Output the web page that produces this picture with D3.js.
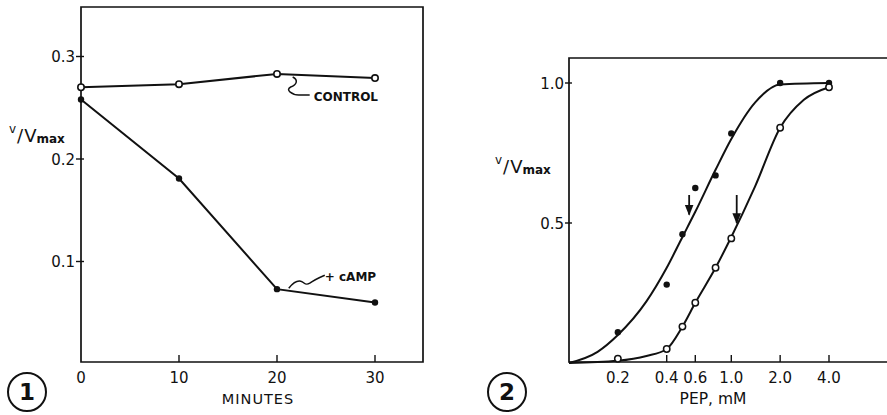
<!DOCTYPE html>
<html>
<head>
<meta charset="utf-8">
<script src="https://cdn.jsdelivr.net/npm/d3@7.9.0/dist/d3.min.js"></script>
<style>
  html, body { margin: 0; padding: 0; background: #fff; }
  svg { display: block; }
  text { font-family: 'DejaVu Sans', 'Liberation Sans', sans-serif; fill: #111; }
</style>
</head>
<body>
<div id="chart"></div>
<script>
// ---- figure 1: v/Vmax vs time ----
const minutes = [0, 10, 20, 30];
const controlValues = [0.270, 0.273, 0.283, 0.279];
const campValues = [0.258, 0.181, 0.073, 0.060];
const minuteTicks = [0, 10, 20, 30];
const rateTicks = [0.1, 0.2, 0.3];

// ---- figure 2: v/Vmax vs PEP (log axis) ----
const pepX = [0.2, 0.4, 0.5, 0.6, 0.8, 1.0, 2.0, 4.0];
const filledY = [0.11, 0.28, 0.46, 0.625, 0.67, 0.82, 1.0, 1.0];
const openY = [0.015, 0.05, 0.13, 0.215, 0.34, 0.445, 0.84, 0.985];
// hand-drawn fitted curves
const filledCurveX = [0.1, 0.15, 0.2, 0.3, 0.4, 0.5, 0.6, 0.8, 1.0, 1.4, 2.0, 4.0];
const filledCurveY = [0, 0.04, 0.10, 0.22, 0.34, 0.45, 0.54, 0.69, 0.80, 0.93, 0.995, 1.0];
const openCurveX = [0.1, 0.2, 0.3, 0.4, 0.5, 0.6, 0.8, 1.0, 1.4, 2.0, 2.8, 4.0];
const openCurveY = [0, 0.008, 0.025, 0.05, 0.13, 0.215, 0.34, 0.45, 0.63, 0.84, 0.94, 0.985];
const pepTicks = [0.2, 0.4, 0.6, 1.0, 2.0, 4.0];
const pepYTicks = [0.5, 1.0];
const arrowX = [0.55, 1.08];
const arrowTop = [0.60, 0.60];
const arrowTip = [0.53, 0.50];

const width = 887, height = 415;
const ink = '#111';

const svg = d3.select('#chart').append('svg')
  .attr('width', width)
  .attr('height', height)
  .attr('viewBox', `0 0 ${width} ${height}`);

svg.append('defs').append('marker')
  .attr('id', 'head')
  .attr('viewBox', '0 0 10 10')
  .attr('refX', 9).attr('refY', 5)
  .attr('markerWidth', 6).attr('markerHeight', 6)
  .attr('orient', 'auto')
  .attr('markerUnits', 'strokeWidth')
  .append('path').attr('d', 'M0,1 L10,5 L0,9 Z').attr('fill', ink);

function yLabel(g, x, y, big, small) {
  const t = g.append('text').attr('x', x).attr('y', y);
  t.append('tspan').attr('font-size', small).attr('dy', -9).text('v');
  t.append('tspan').attr('font-size', big).attr('dy', 9).attr('dx', 1).text('/');
  t.append('tspan').attr('font-size', big).attr('dx', 1).text('V');
  t.append('tspan').attr('font-size', small).attr('dy', 1).attr('font-weight', 'bold').text('max');
}

function circledNumber(g, cx, cy, n) {
  g.append('circle').attr('cx', cx).attr('cy', cy).attr('r', 19)
    .attr('fill', 'none').attr('stroke', ink).attr('stroke-width', 2);
  g.append('text').attr('x', cx).attr('y', cy + 8)
    .attr('text-anchor', 'middle').attr('font-size', 23).attr('font-weight', 'bold')
    .text(n);
}

// =================== panel 1 ===================
{
  const g = svg.append('g');
  const x = d3.scaleLinear().domain([0, 30]).range([81, 375]);
  const y = d3.scaleLinear().domain([0, 0.3]).range([364, 56.5]);
  const left = 81, right = 423, top = 7, bottom = 362;

  g.append('path')
    .attr('d', `M${left},${top} H${right} V${bottom} H${left} Z`)
    .attr('fill', 'none').attr('stroke', ink).attr('stroke-width', 1.7);

  // y ticks
  rateTicks.forEach(v => {
    g.append('line').attr('x1', left - 5).attr('x2', left + 3)
      .attr('y1', y(v)).attr('y2', y(v)).attr('stroke', ink).attr('stroke-width', 1.4);
    g.append('text').attr('x', left - 6).attr('y', y(v) + 5.5)
      .attr('text-anchor', 'end').attr('font-size', 15).text(v.toFixed(1));
  });
  // x ticks
  minuteTicks.forEach(v => {
    if (v > 0) g.append('line').attr('x1', x(v)).attr('x2', x(v))
      .attr('y1', bottom).attr('y2', bottom - 7).attr('stroke', ink).attr('stroke-width', 1.4);
    g.append('text').attr('x', x(v)).attr('y', 383)
      .attr('text-anchor', 'middle').attr('font-size', 15).text(v);
  });
  g.append('text').attr('x', 258).attr('y', 404).attr('text-anchor', 'middle')
    .attr('font-size', 14.5).attr('letter-spacing', 1).text('MINUTES');

  yLabel(g, 9, 142, 18, 12);
  circledNumber(g, 27, 392, '1');

  const line = d3.line().x(d => x(d[0])).y(d => y(d[1]));
  const control = d3.zip(minutes, controlValues);
  const camp = d3.zip(minutes, campValues);
  [control, camp].forEach(s => g.append('path').attr('d', line(s))
    .attr('fill', 'none').attr('stroke', ink).attr('stroke-width', 2));

  g.selectAll('.camp').data(camp).join('circle')
    .attr('cx', d => x(d[0])).attr('cy', d => y(d[1])).attr('r', 3.2).attr('fill', ink);
  g.selectAll('.ctrl').data(control).join('circle')
    .attr('cx', d => x(d[0])).attr('cy', d => y(d[1])).attr('r', 3.2)
    .attr('fill', '#fff').attr('stroke', ink).attr('stroke-width', 1.6);

  // CONTROL label with squiggle, anchored on the 20 min control point
  const cx0 = x(21.6), cy0 = y(d3.mean(controlValues.slice(2)));
  g.append('path')
    .attr('d', `M${cx0},${cy0 + 1} c6,3 4,8 -2,10 c-6,3 2,8 8,8 h11`)
    .attr('fill', 'none').attr('stroke', ink).attr('stroke-width', 1.5);
  g.append('text').attr('x', cx0 + 21).attr('y', cy0 + 25)
    .attr('font-size', 12).attr('font-weight', 'bold').text('CONTROL');

  // + cAMP label
  const ax0 = x(21.2), ay0 = y(0.072);
  g.append('path')
    .attr('d', `M${ax0},${ay0 - 2} c4,-5 8,-8 12,-7 c4,1 4,5 9,2 c4,-3 8,-5 15,-8`)
    .attr('fill', 'none').attr('stroke', ink).attr('stroke-width', 1.5);
  g.append('text').attr('x', ax0 + 36).attr('y', ay0 - 9)
    .attr('font-size', 12).attr('font-weight', 'bold').text('+ cAMP');
}

// =================== panel 2 ===================
{
  const g = svg.append('g');
  const x = d3.scaleLog().domain([0.1, 4]).range([569, 829]);
  const y = d3.scaleLinear().domain([0, 1]).range([363, 83]);
  const left = 569, right = 890, top = 58, bottom = 362;

  g.append('path')
    .attr('d', `M${right},${top} H${left} V${bottom} H${right}`)
    .attr('fill', 'none').attr('stroke', ink).attr('stroke-width', 1.7);

  pepYTicks.forEach(v => {
    g.append('line').attr('x1', left - 4).attr('x2', left + 3)
      .attr('y1', y(v)).attr('y2', y(v)).attr('stroke', ink).attr('stroke-width', 1.4);
    g.append('text').attr('x', left - 5).attr('y', y(v) + 5.5)
      .attr('text-anchor', 'end').attr('font-size', 15).text(v.toFixed(1));
  });
  pepTicks.forEach(v => {
    g.append('line').attr('x1', x(v)).attr('x2', x(v))
      .attr('y1', bottom).attr('y2', bottom - 7).attr('stroke', ink).attr('stroke-width', 1.4);
    g.append('text').attr('x', x(v)).attr('y', 383)
      .attr('text-anchor', 'middle').attr('font-size', 15).text(v.toFixed(1));
  });
  g.append('text').attr('x', 713).attr('y', 404).attr('text-anchor', 'middle')
    .attr('font-size', 15.5).text('PEP, mM');

  yLabel(g, 495, 173, 18, 12);
  circledNumber(g, 507, 392, '2');

  const curve = d3.line().x(d => x(d[0])).y(d => y(d[1])).curve(d3.curveMonotoneX);
  g.append('path').attr('d', curve(d3.zip(filledCurveX, filledCurveY)))
    .attr('fill', 'none').attr('stroke', ink).attr('stroke-width', 2);
  g.append('path').attr('d', curve(d3.zip(openCurveX, openCurveY)))
    .attr('fill', 'none').attr('stroke', ink).attr('stroke-width', 2);

  g.selectAll('.f').data(d3.zip(pepX, filledY)).join('circle')
    .attr('cx', d => x(d[0])).attr('cy', d => y(d[1])).attr('r', 3.2).attr('fill', ink);
  g.selectAll('.o').data(d3.zip(pepX, openY)).join('circle')
    .attr('cx', d => x(d[0])).attr('cy', d => y(d[1])).attr('r', 3.2)
    .attr('fill', '#fff').attr('stroke', ink).attr('stroke-width', 1.5);

  arrowX.forEach((v, i) => {
    g.append('line').attr('x1', x(v)).attr('x2', x(v))
      .attr('y1', y(arrowTop[i])).attr('y2', y(arrowTip[i]))
      .attr('stroke', ink).attr('stroke-width', 1.8).attr('marker-end', 'url(#head)');
  });
}
</script>
</body>
</html>
